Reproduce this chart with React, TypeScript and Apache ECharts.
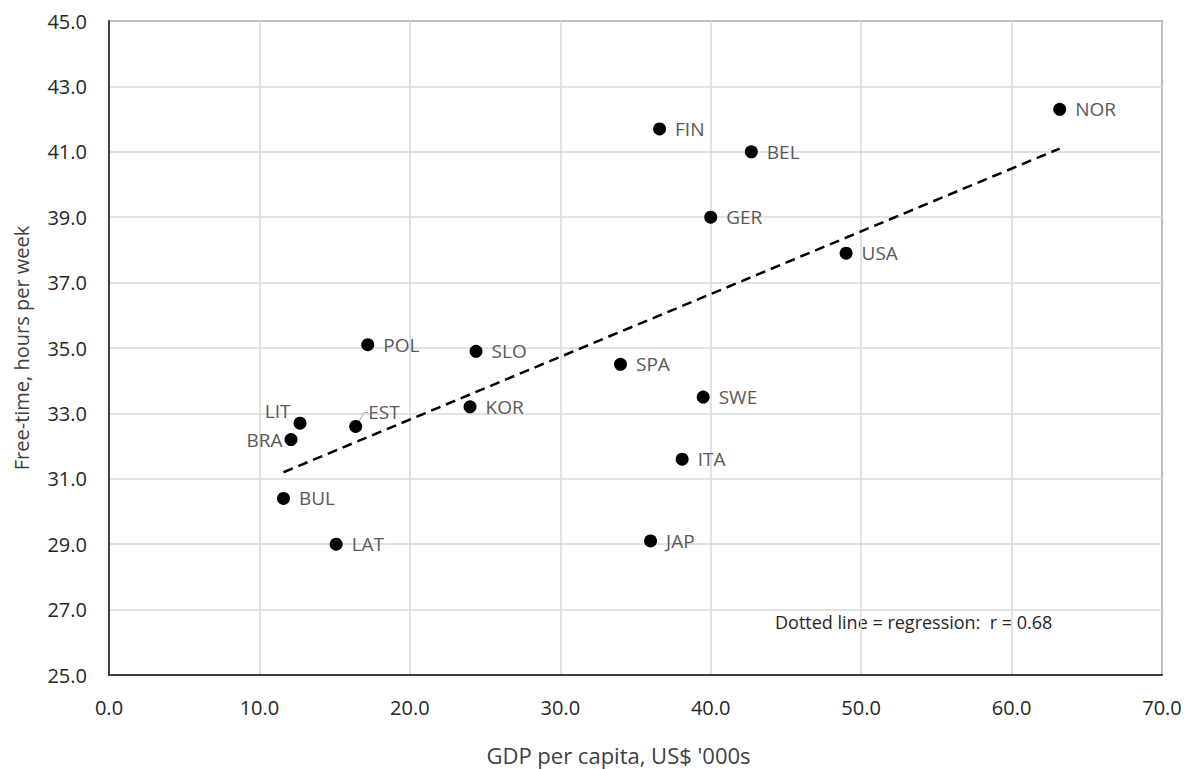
import React, { useEffect, useRef } from "react";
import * as echarts from "echarts";

const countries = ["NOR", "FIN", "BEL", "GER", "USA", "POL", "SLO", "SPA", "SWE", "KOR", "LIT", "EST", "BRA", "ITA", "BUL", "LAT", "JAP"];
const gdp = [63.2, 36.6, 42.7, 40.0, 49.0, 17.2, 24.4, 34.0, 39.5, 24.0, 12.7, 16.4, 12.1, 38.1, 11.6, 15.1, 36.0];
const freeTime = [42.3, 41.7, 41.0, 39.0, 37.9, 35.1, 34.9, 34.5, 33.5, 33.2, 32.7, 32.6, 32.2, 31.6, 30.4, 29.0, 29.1];
const trendX = [11.6, 63.2];
const trendY = [31.2, 41.1];
const xTitle = "GDP per capita, US$ '000s";
const yTitle = "Free-time, hours per week";
const note = "Dotted line = regression:  r = 0.68";

const FONT = "'Open Sans', 'Noto Sans', sans-serif";

export default function App() {
  const ref = useRef<HTMLDivElement>(null);
  useEffect(() => {
    if (!ref.current) return;
    const chart = echarts.init(ref.current, null, { renderer: "svg" });
    const points = countries.map((c, i) => {
      const item: any = { name: c, value: [gdp[i], freeTime[i]] };
      if (c === "LIT") item.label = { position: "left", distance: 3 };
      if (c === "BRA") item.label = { position: "left", distance: 2 };
      if (c === "EST") {
        item.label = { position: "right", distance: 6 };
        item.labelLine = { show: true, length2: 4, lineStyle: { color: "#a6a6a6", width: 1 } };
      }
      return item;
    });
    chart.setOption({
      animation: false,
      backgroundColor: "#ffffff",
      textStyle: { fontFamily: FONT },
      grid: { left: 109, right: 25, top: 21, bottom: 94, outerBoundsMode: "none", containLabel: false, show: true, borderColor: "#404040", borderWidth: 1.5, backgroundColor: "transparent" },
      xAxis: {
        type: "value", min: 0, max: 70, interval: 10,
        name: xTitle, nameLocation: "middle", nameGap: 69, nameMoveOverlap: false,
        nameTextStyle: { fontSize: 22, color: "#404040", fontFamily: FONT, padding: [0, 34, 0, 0] },
        axisLine: { show: true, lineStyle: { color: "#404040", width: 2 } },
        axisTick: { show: false },
        axisLabel: { fontSize: 20, color: "#262626", margin: 22, formatter: (v: number) => v.toFixed(1), fontFamily: FONT },
        splitLine: { show: true, lineStyle: { color: "#d9d9d9", width: 1.5 } },
      },
      yAxis: {
        type: "value", min: 25, max: 45, interval: 2,
        name: yTitle, nameLocation: "middle", nameGap: 78, nameRotate: 90, nameMoveOverlap: false,
        nameTextStyle: { fontSize: 20, color: "#404040", fontFamily: FONT },
        axisLine: { show: true, lineStyle: { color: "#404040", width: 2 } },
        axisTick: { show: false },
        axisLabel: { fontSize: 20, color: "#262626", margin: 22, formatter: (v: number) => v.toFixed(1), fontFamily: FONT },
        splitLine: { show: true, lineStyle: { color: "#d9d9d9", width: 1.5 } },
      },
      series: [
        {
          type: "line",
          data: trendX.map((x, i) => [x, trendY[i]]),
          symbol: "none",
          lineStyle: { color: "#000000", width: 2.5, type: [10, 6] },
          z: 2,
        },
        {
          type: "scatter",
          data: points,
          symbolSize: 13,
          itemStyle: { color: "#000000", opacity: 1 },
          label: {
            show: true, position: "right", distance: 9,
            formatter: "{b}", fontSize: 19, color: "#595959", fontFamily: FONT,
          },
          labelLayout: (p: any) => (p.dataIndex === 11 ? { dy: -14 } : p.dataIndex === 10 ? { dy: -12 } : {}),
          z: 3,
        },
      ],
      graphic: [
        { type: "text", left: 775, top: 613, style: { text: note, fontSize: 18, fill: "#262626", fontFamily: FONT } },
      ],
    });
    return () => chart.dispose();
  }, []);
  return <div ref={ref} style={{ position: "fixed", left: 0, top: 0, width: 1187, height: 769 }} />;
}
